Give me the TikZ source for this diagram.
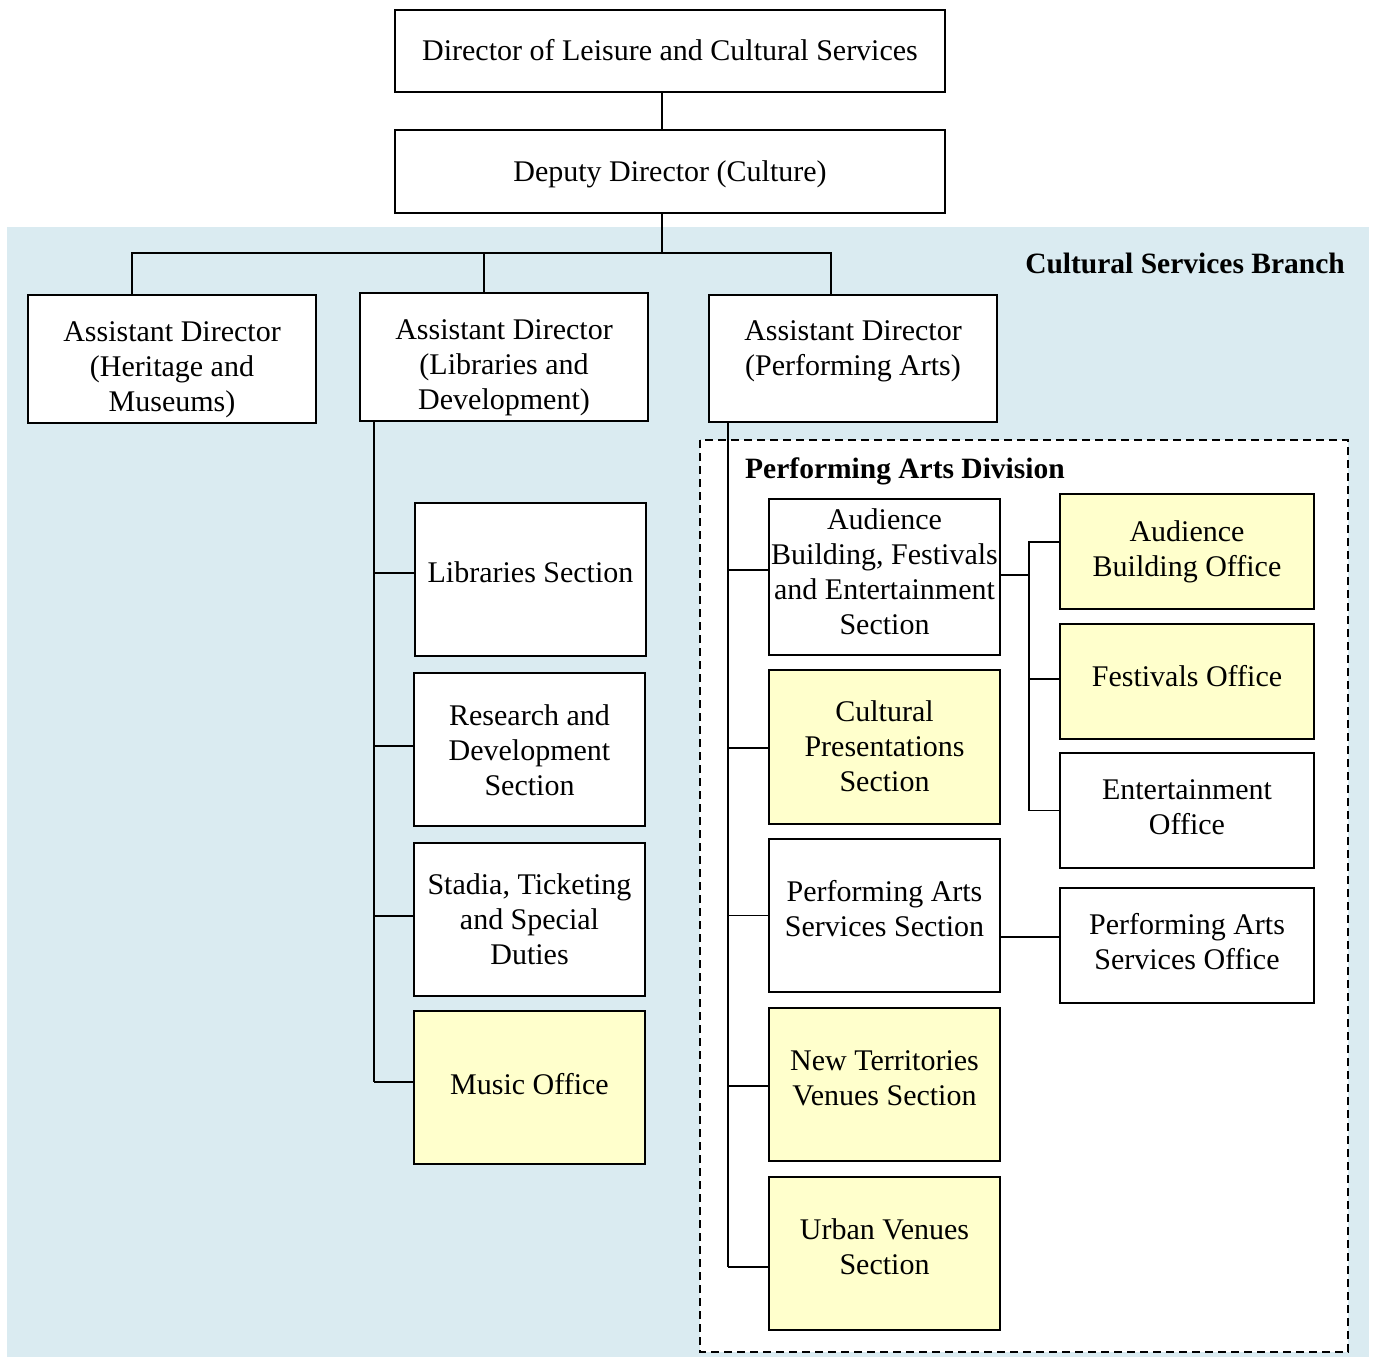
\documentclass[tikz,border=0pt]{standalone}
\usepackage{fontspec}
\setmainfont{Liberation Serif}
\definecolor{bgblue}{HTML}{DAEBF1}
\definecolor{paleyellow}{HTML}{FFFFCC}
\newcommand\SU{\strut}
\begin{document}
\begin{tikzpicture}[x=1pt,y=-1pt,
  box/.style={draw=black, line width=1.4pt, fill=white, inner sep=0pt},
  ybox/.style={box, fill=paleyellow},
  lbl/.style={align=center, inner sep=0pt, font=\fontsize{30}{35}\selectfont, yshift=-3.5pt},
  txt/.style 2 args={label={[lbl, yshift=#1]center:{#2}}},
  conn/.style={draw=black, line width=1.4pt},
  heading/.style={font=\fontsize{29.5}{32}\selectfont\bfseries, inner sep=0pt}]
\useasboundingbox (0,0) rectangle (1376,1357);
\fill[bgblue] (7,227) rectangle (1369,1357);
\draw[dashed, dash pattern=on 8pt off 5pt, line width=1.2pt, fill=white] (700,440) rectangle (1348,1352);

% top
\node[box, minimum width=550, minimum height=82, txt={1pt}{\SU Director of Leisure and Cultural Services}] (d1) at (670,51) {};
\node[box, minimum width=550, minimum height=83, txt={1pt}{\SU Deputy Director (Culture)}] (d2) at (670,171.5) {};

\node[heading, anchor=east] (csb) at (1345,263.5) {Cultural Services Branch};
\node[heading, anchor=west] (pad) at (745,471) {Performing Arts Division};

% assistant directors
\node[box, minimum width=288, minimum height=128, txt={-6.5pt}{\SU Assistant Director\\(Heritage and\\Museums)\SU}] (ad1) at (172,359) {};
\node[box, minimum width=288, minimum height=128, txt={-7pt}{\SU Assistant Director\\(Libraries and\\Development)\SU}] (ad2) at (504,357) {};
\node[box, minimum width=288, minimum height=127, txt={11pt}{\SU Assistant Director\\(Performing Arts)\SU}] (ad3) at (853,358.5) {};

% libraries sections
\node[box, minimum width=231, minimum height=153, txt={7.5pt}{\SU Libraries Section}] (lib1) at (530.5,579.5) {};
\node[box, minimum width=231, minimum height=153, txt={0pt}{\SU Research and\\Development\\Section\SU}] (lib2) at (529.5,749.5) {};
\node[box, minimum width=231, minimum height=153, txt={1pt}{\SU Stadia, Ticketing\\and Special\\Duties\SU}] (lib3) at (529.5,919.5) {};
\node[ybox, minimum width=231, minimum height=153, txt={3.5pt}{\SU Music Office}] (lib4) at (529.5,1087.5) {};

% performing arts sections
\node[box, minimum width=231, minimum height=156, txt={5.5pt}{\SU Audience\\Building, Festivals\\and Entertainment\\Section\SU}] (pa1) at (884.5,577) {};
\node[ybox, minimum width=231, minimum height=154, txt={1pt}{\SU Cultural\\Presentations\\Section\SU}] (pa2) at (884.5,747) {};
\node[box, minimum width=231, minimum height=153, txt={7pt}{\SU Performing Arts\\Services Section\SU}] (pa3) at (884.5,915.5) {};
\node[ybox, minimum width=231, minimum height=153, txt={7pt}{\SU New Territories\\Venues Section\SU}] (pa4) at (884.5,1084.5) {};
\node[ybox, minimum width=231, minimum height=153, txt={7.5pt}{\SU Urban Venues\\Section\SU}] (pa5) at (884.5,1253.5) {};

% offices
\node[ybox, minimum width=254, minimum height=115, txt={3.5pt}{\SU Audience\\Building Office\SU}] (of1) at (1187,551.5) {};
\node[ybox, minimum width=254, minimum height=115, txt={5.5pt}{\SU Festivals Office}] (of2) at (1187,681.5) {};
\node[box, minimum width=254, minimum height=115, txt={4pt}{\SU Entertainment\\Office\SU}] (of3) at (1187,810.5) {};
\node[box, minimum width=254, minimum height=115, txt={4pt}{\SU Performing Arts\\Services Office\SU}] (of4) at (1187,945.5) {};

% helper coordinates
\coordinate (bx) at (662,0);
\coordinate (bus) at (0,253);
\coordinate (lx) at (374,0);
\coordinate (px) at (728,0);
\coordinate (sx) at (1029,0);

% connectors
\draw[conn] (d1.south -| bx) -- (d2.north -| bx);
\draw[conn] (d2.south -| bx) -- (bus -| bx);
\draw[conn] ([xshift=-40pt]ad1.north) -- ([xshift=-40pt]ad1.north |- bus) -- ([xshift=-22pt]ad3.north |- bus) -- ([xshift=-22pt]ad3.north);
\draw[conn] ([xshift=-20pt]ad2.north |- bus) -- ([xshift=-20pt]ad2.north);

% libraries tree
\draw[conn] (ad2.south -| lx) -- ([yshift=5.5pt]lib4.west -| lx);
\draw[conn] ([yshift=6.5pt]lib1.west -| lx) -- ([yshift=6.5pt]lib1.west);
\draw[conn] ([yshift=3.5pt]lib2.west -| lx) -- ([yshift=3.5pt]lib2.west);
\draw[conn] ([yshift=3.5pt]lib3.west -| lx) -- ([yshift=3.5pt]lib3.west);
\draw[conn] ([yshift=5.5pt]lib4.west -| lx) -- ([yshift=5.5pt]lib4.west);

% performing arts tree
\draw[conn] (ad3.south -| px) -- ([yshift=-13.5pt]pa5.west -| px);
\draw[conn] ([yshift=7pt]pa1.west -| px) -- ([yshift=7pt]pa1.west);
\draw[conn] ([yshift=-1pt]pa2.west -| px) -- ([yshift=-1pt]pa2.west);
\draw[conn] (pa3.west -| px) -- (pa3.west);
\draw[conn] ([yshift=-1.5pt]pa4.west -| px) -- ([yshift=-1.5pt]pa4.west);
\draw[conn] ([yshift=-13.5pt]pa5.west -| px) -- ([yshift=-13.5pt]pa5.west);

% sub-tree of ABFE
\draw[conn] ([yshift=2pt]pa1.east) -- ([yshift=2pt]pa1.east -| sx);
\draw[conn] ([yshift=9.5pt]of1.west) -- ([yshift=9.5pt]of1.west -| sx) -- (of3.west -| sx) -- (of3.west);
\draw[conn] ([yshift=2.5pt]of2.west -| sx) -- ([yshift=2.5pt]of2.west);
\draw[conn] ([yshift=8.5pt]of4.west -| pa3.east) -- ([yshift=8.5pt]of4.west);
\end{tikzpicture}
\end{document}
